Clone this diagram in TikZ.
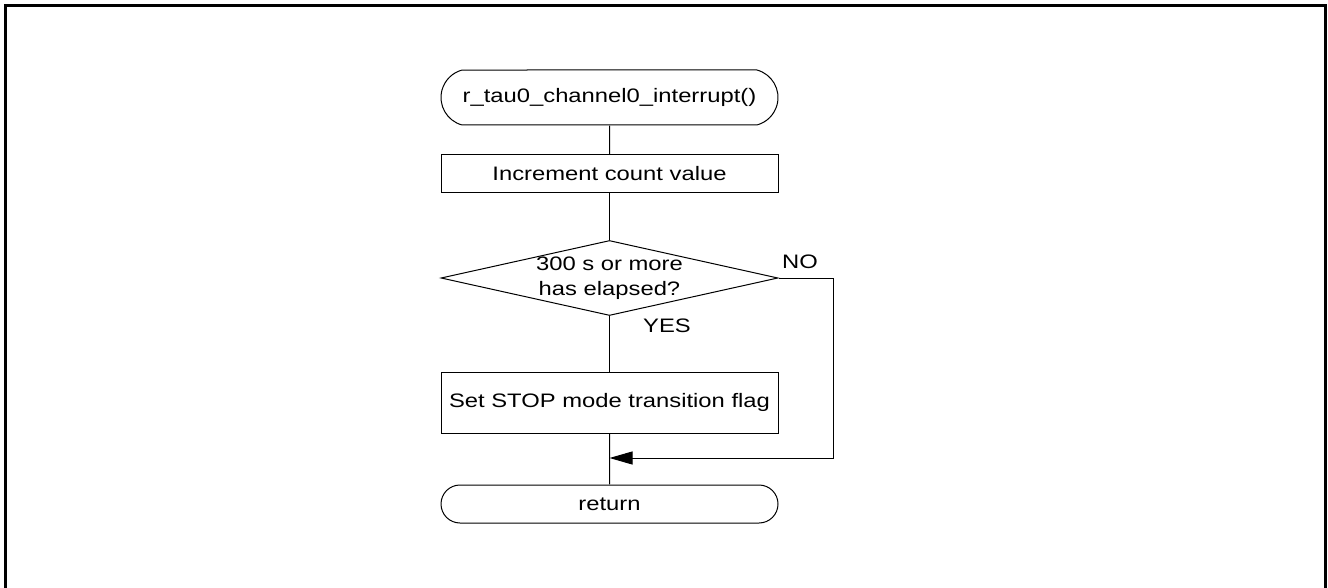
\documentclass[tikz,border=0pt]{standalone}
\usepackage{fontspec}
\setmainfont{Liberation Sans}[FakeStretch=1.22]
\usetikzlibrary{shapes.geometric,shapes.misc,arrows.meta}
\begin{document}
\begin{tikzpicture}[x=1pt,y=-1pt,
  every node/.style={font=\fontsize{19.5}{25}\selectfont, inner sep=0pt},
  line/.style={line width=1pt},
  term/.style={rounded rectangle, draw, line width=1pt, minimum width=337pt},
  proc/.style={rectangle, draw, line width=1pt, minimum width=337pt},
  decis/.style={diamond, draw, line width=1pt, minimum width=337pt, minimum height=75pt},
  lbl/.style={}]
\useasboundingbox (0,0) rectangle (1328,588);
\draw[line width=2.7pt] (5.5,590) -- (5.5,5.7) -- (1325.5,5.7) -- (1325.5,590);
\node[term, minimum height=55pt, rounded rectangle arc length=150] (start) at (609.5,97.5) {r\_tau0\_channel0\_interrupt()};
\node[proc, minimum height=38pt] (inc) at (609.5,174) {Increment count value};
\node[decis] (dec) at (609.5,278) {};
\node[align=center] (dectext) at (dec.center) {300 s or more\\has elapsed?};
\node[proc, minimum height=61pt] (flag) at (609.5,402.5) {Set STOP mode transition flag};
\node[term, minimum height=38pt] (ret) at (609.5,504) {return};
\node[lbl] (no) at (800,262) {NO};
\node[lbl] (yes) at (667,326) {YES};
\coordinate (c1) at (833,278);
\coordinate (c2) at (833,458);
\coordinate (j) at (609.5,458);
\draw[line] (start) -- (inc);
\draw[line] (inc) -- (dec.north);
\draw[line] (dec.south) -- (flag);
\draw[line] (flag) -- (ret);
\draw[line,-{Triangle[length=23pt,width=13pt]}] (dec.east) -- (c1) -- (c2) -- (j);
\end{tikzpicture}
\end{document}
